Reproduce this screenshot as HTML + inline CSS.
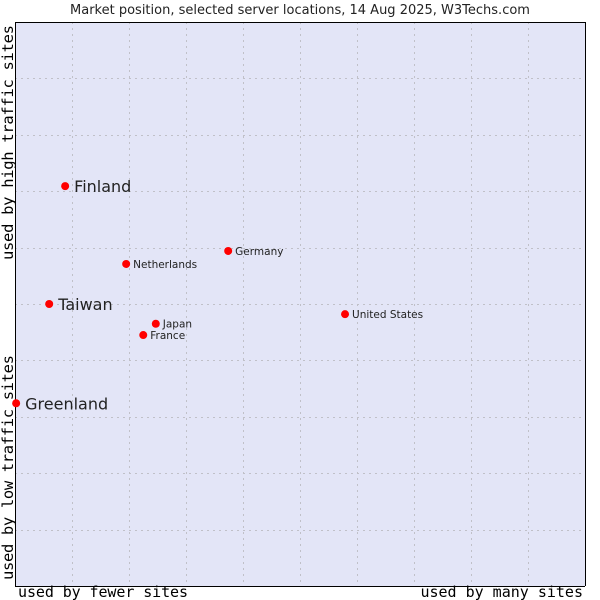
<!DOCTYPE html>
<html><head><meta charset="utf-8"><style>
body{margin:0;background:#fff;width:600px;height:600px;overflow:hidden}
svg{display:block}
</style></head><body>
<svg id="chart" width="600" height="600" xmlns="http://www.w3.org/2000/svg">
<text x="300" y="14" text-anchor="middle" font-family="DejaVu Sans, sans-serif" font-size="13" fill="#222">Market position, selected server locations, 14 Aug 2025, W3Techs.com</text>
<rect x="15" y="22" width="570" height="564" fill="#e3e5f7"/>
<g id="grid"></g>
<path d="M15.5 22 V586.5 H585" fill="none" stroke="#000" stroke-width="1"/>
<path d="M15 22.5 H585.5 V586" fill="none" stroke="#000" stroke-width="1"/>
<text x="18" y="597" textLength="170" font-family="DejaVu Sans Mono, Liberation Mono, monospace" font-size="15" fill="#000">used by fewer sites</text>
<text x="583" y="597" text-anchor="end" font-family="DejaVu Sans Mono, Liberation Mono, monospace" font-size="15" fill="#000">used by many sites</text>
<text transform="translate(13,580) rotate(-90)" textLength="225" font-family="DejaVu Sans Mono, Liberation Mono, monospace" font-size="15.5" fill="#000">used by low traffic sites</text>
<text transform="translate(13,260) rotate(-90)" textLength="235" font-family="DejaVu Sans Mono, Liberation Mono, monospace" font-size="15.5" fill="#000">used by high traffic sites</text>
<g id="points"></g>
</svg>
<script>
const countries = ["Finland","Taiwan","Greenland","Netherlands","Germany","Japan","France","United States"];
const xValues = [0.88,0.6,0.02,1.95,3.74,2.47,2.25,5.79];
const yValues = [7.09,5.0,3.24,5.71,5.94,4.65,4.45,4.82];
const bigLabel = [true,true,true,false,false,false,false,false];
const gridTicks = [1,2,3,4,5,6,7,8,9];
const NS="http://www.w3.org/2000/svg";
const X0=15,X1=585,Y0=586,Y1=22;
function sx(v){return X0+(X1-X0)*v/10;}
function sy(v){return Y0-(Y0-Y1)*v/10;}
const grid=document.getElementById('grid');
gridTicks.forEach(t=>{
  const v=document.createElementNS(NS,'line');
  
  
  const x=Math.round(sx(t))+0.5;
  v.setAttribute('x1',x);v.setAttribute('x2',x);v.setAttribute('y1',Y1);v.setAttribute('y2',Y0);
  v.setAttribute('stroke','#c0c0c8');v.setAttribute('stroke-dasharray','2,4');
  grid.appendChild(v);
  const h=document.createElementNS(NS,'line');
  
  
  const y=Math.round(sy(t))+0.5;
  h.setAttribute('x1',X0);h.setAttribute('x2',X1);h.setAttribute('y1',y);h.setAttribute('y2',y);
  h.setAttribute('stroke','#c0c0c8');h.setAttribute('stroke-dasharray','2,4');
  grid.appendChild(h);
});
const pts=document.getElementById('points');
countries.forEach((c,i)=>{
  const x=sx(xValues[i]),y=sy(yValues[i]);
  const m=document.createElementNS(NS,'circle');
  
  
  m.setAttribute('cx',x);m.setAttribute('cy',y);m.setAttribute('r',4);m.setAttribute('fill','#f00');
  pts.appendChild(m);
  const t=document.createElementNS(NS,'text');
  
  
  const big=bigLabel[i];
  t.setAttribute('x',x+(big?9:7));t.setAttribute('y',y+(big?6:4));
  t.setAttribute('font-family','DejaVu Sans, sans-serif');
  t.setAttribute('font-size',big?16:10.5);t.setAttribute('fill','#222');
  t.textContent=c;
  pts.appendChild(t);
});
</script>
</body></html>
